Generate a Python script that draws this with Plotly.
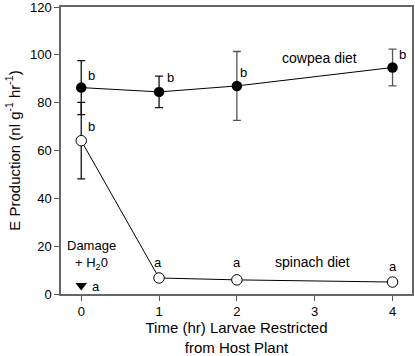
import plotly.graph_objects as go

time_pts = [0, 1, 2, 4]
cowpea = [86.3, 84.5, 87.0, 94.7]
cowpea_err = [11.3, 6.6, 14.4, 7.7]
spinach = [64.1, 6.7, 5.9, 5.0]
spinach_err = [16.0, 0, 0, 0]
damage_x = [0]
damage_y = [3.6]
x_ticks = [0, 1, 2, 3, 4]
y_ticks = [0, 20, 40, 60, 80, 100, 120]

FONT = "Liberation Sans, Arial, sans-serif"

fig = go.Figure()

fig.add_trace(go.Scatter(
    x=time_pts[:2], y=cowpea[:2], mode="markers",
    marker=dict(size=1, color="rgba(0,0,0,0)"),
    error_y=dict(type="data", array=cowpea_err[:2], color="#111", thickness=1.3, width=4),
    showlegend=False, hoverinfo="skip"))
fig.add_trace(go.Scatter(
    x=time_pts[2:], y=cowpea[2:], mode="markers",
    marker=dict(size=1, color="rgba(0,0,0,0)"),
    error_y=dict(type="data", array=cowpea_err[2:], color="#555", thickness=1.3, width=4),
    showlegend=False, hoverinfo="skip"))
fig.add_trace(go.Scatter(
    x=time_pts[:1], y=spinach[:1], mode="markers",
    marker=dict(size=1, color="rgba(0,0,0,0)"),
    error_y=dict(type="data", array=spinach_err[:1], color="#111", thickness=1.3, width=4),
    showlegend=False, hoverinfo="skip"))

fig.add_trace(go.Scatter(
    x=time_pts, y=spinach, mode="lines+markers",
    line=dict(color="black", width=1),
    marker=dict(symbol="circle", size=10.5, color="white", line=dict(color="black", width=1)),
    showlegend=False))
fig.add_trace(go.Scatter(
    x=time_pts, y=cowpea, mode="lines+markers",
    line=dict(color="black", width=1),
    marker=dict(symbol="circle", size=10.5, color="black"),
    showlegend=False))
fig.add_trace(go.Scatter(
    x=damage_x, y=damage_y, mode="markers",
    marker=dict(symbol="triangle-down", size=10, color="black"),
    showlegend=False))

ann = [
    (0.13, 91.2, "b", 13), (0.13, 69.9, "b", 13), (1.15, 90.6, "b", 13), (2.09, 92.7, "b", 13),
    (4.13, 100.3, "b", 13),
    (0.98, 13.3, "a", 13), (2.0, 13.3, "a", 13), (4.0, 11.3, "a", 13), (0.19, 3.1, "a", 13),
    (3.06, 98.7, "cowpea diet", 14), (2.97, 13.5, "spinach diet", 14),
    (0.13, 20.2, "Damage", 13), (0.13, 12.6, "+ H<sub>2</sub>0", 13),
]
for x, y, t, s in ann:
    fig.add_annotation(x=x, y=y, text=t, showarrow=False, xref="x", yref="y",
                       font=dict(family=FONT, size=s, color="black"))

fig.update_layout(
    width=415, height=356,
    margin=dict(l=61, r=3, t=7, b=62),
    paper_bgcolor="white", plot_bgcolor="white",
    font=dict(family=FONT, size=13, color="black"),
    xaxis=dict(range=[-0.26, 4.25], tickvals=x_ticks, ticks="outside", ticklen=5,
               tickcolor="#555", showline=True, linecolor="#666", linewidth=1.5, mirror=True,
               showgrid=False, zeroline=False, automargin=False,
               title=dict(text="Time (hr) Larvae Restricted<br>from Host Plant",
                          font=dict(family=FONT, size=15), standoff=10)),
    yaxis=dict(range=[0, 120], tickvals=y_ticks, ticks="outside", ticklen=5,
               tickcolor="#555", showline=True, linecolor="#666", linewidth=1.5, mirror=True,
               showgrid=False, zeroline=False, automargin=False, ticklabeloverflow="allow",
               title=dict(text="E Production (nl g<sup>-1</sup> hr<sup>-1</sup>)",
                          font=dict(family=FONT, size=15), standoff=6)),
)

fig.write_html("out.html", config={"displayModeBar": False},
               post_script="document.body.style.margin='0';document.body.style.padding='0';document.body.style.overflow='hidden';")
